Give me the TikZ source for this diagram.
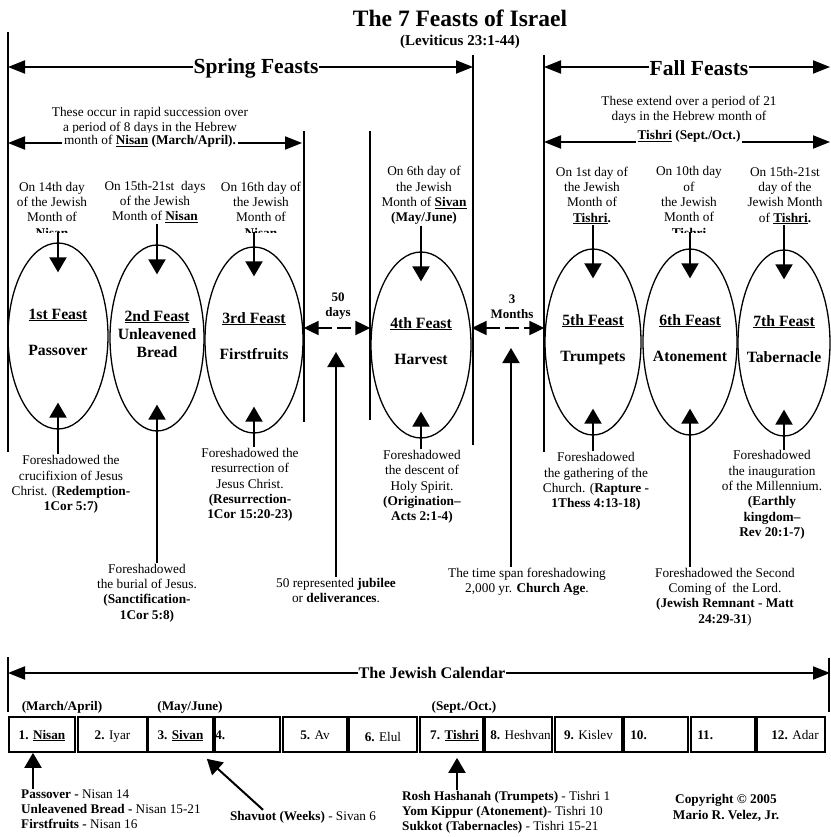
\documentclass[tikz,border=0pt]{standalone}
\usepackage{fontspec}
\setmainfont{Liberation Serif}
\usepackage{tikz}
\usetikzlibrary{arrows.meta,shapes.geometric}

\begin{document}
\begin{tikzpicture}[x=1pt,y=-1pt,
  txt/.style={align=center,font=\fontsize{13.3}{15.3}\selectfont,inner sep=1pt},
  smalltxt/.style={align=center,font=\fontsize{13.2}{15}\selectfont,inner sep=1pt},
  monthtxt/.style={anchor=base,font=\fontsize{13.2}{15}\selectfont,inner sep=1pt},
  listtxt/.style={align=left,anchor=north west,font=\fontsize{13.2}{15}\selectfont,inner sep=1pt},
  lbl/.style={align=center,anchor=base,font=\fontsize{15.7}{18}\selectfont\bfseries,inner sep=1pt},
  head/.style={font=\fontsize{21.5}{24}\selectfont\bfseries,fill=white,inner sep=1pt},
  feast/.style={draw,ellipse,line width=1.3pt,minimum height=186pt,inner sep=0pt},
  feastarrow/.style={line width=2pt,-{Triangle[length=15pt,width=17pt]}},
  spanarrow/.style={line width=2pt,{Triangle[length=17pt,width=13pt]}-{Triangle[length=17pt,width=13pt]}},
  gaparrow/.style={line width=2pt,dash pattern=on 14pt off 5pt,{Triangle[length=15pt,width=14pt]}-{Triangle[length=15pt,width=14pt]}},
  divider/.style={line width=1.3pt},
  monthbox/.style={draw,line width=1.7pt,minimum height=35pt,inner sep=0pt}]
\useasboundingbox (0,0) rectangle (830,837);

% title
\node[font=\fontsize{23.5}{26}\selectfont\bfseries] (title) at (460,18) {The 7 Feasts of Israel};
\node[font=\fontsize{15}{17}\selectfont\bfseries] (lev) at (460,42) {(Leviticus 23:1-44)};

% dividers
\draw[divider] (8,32) -- (8,452);
\draw[divider] (473,55) -- (473,445);
\draw[divider] (544,55) -- (544,452);
\draw[divider] (304,131) -- (304,422);
\draw[divider] (370,131) -- (370,420);

% spring and fall spans
\coordinate (sp0) at (8,67);
\coordinate (sp1) at (473,67);
\coordinate (fa0) at (544,67);
\coordinate (fa1) at (830,67);
\draw[spanarrow] (sp0) -- (sp1);
\draw[spanarrow] (fa0) -- (fa1);
\node[head] (spring) at (256,68.5) {Spring Feasts};
\node[head] (fall) at (699,68.5) {Fall Feasts};

\coordinate (ss0) at (8,143);
\coordinate (ss1) at (302,143);
\coordinate (fs0) at (544,142);
\coordinate (fs1) at (830,142);
\draw[spanarrow] (ss0) -- (ss1);
\draw[spanarrow] (fs0) -- (fs1);
\node[txt] (spt) at (150,120.5) {These occur in rapid succession over\\a period of 8 days in the Hebrew};
\node[txt,fill=white,inner sep=2pt] (spm) at (150,141) {month of \underline{\textbf{Nisan}} \textbf{(March/April).}};
\node[txt] (fat) at (689,110) {These extend over a period of 21\\days in the Hebrew month of};
\node[txt,fill=white,inner sep=2pt] (fam) at (689,136) {\underline{\textbf{Tishri}} \textbf{(Sept./Oct.)}};

% feasts
\foreach \n/\x/\y/\w in {1/58/336/100, 2/157/338/94, 3/254/340/98, 4/421/345/100,
                         5/593/342/96, 6/690/342/94, 7/784/343/92}
  \node[feast,minimum width=\w pt] (f\n) at (\x,\y) {};
\foreach \n/\h/\nm in {1/1st/Passover, 2/2nd/{Unleavened\\Bread}, 3/3rd/Firstfruits,
                       4/4th/Harvest, 5/5th/Trumpets, 6/6th/Atonement, 7/7th/Tabernacle} {
  \node[lbl] (h\n) at ([yshift=17pt]f\n.center) {\underline{\h\ Feast}};
  \node[lbl] (n\n) at ([yshift=-19pt]f\n.center) {\nm};
}

% texts above
\begin{scope}
\clip (0,150) rectangle (830,232);
\node[txt] (t1) at (52,210.5) {On 14th day\\of the Jewish\\Month of\\\underline{\textbf{Nisan}}};
\node[txt] (t3) at (261,210.5) {On 16th day of\\the Jewish\\Month of\\\underline{\textbf{Nisan}}};
\node[txt] (t6) at (689,203) {On 10th day\\of\\the Jewish\\Month of\\\underline{\textbf{Tishri}}};
\end{scope}
\coordinate (cut) at (0,232);
\node[txt] (t2) at (155,202) {On 15th-21st\ \ days\\of the Jewish\\Month of \underline{\textbf{Nisan}}};
\node[txt] (t4) at (424,195.5) {On 6th day of\\the Jewish\\Month of \underline{\textbf{Sivan}}\\\textbf{(May/June)}};
\node[txt] (t5) at (592,195.5) {On 1st day of\\the Jewish\\Month of\\\underline{\textbf{Tishri}}\textbf{.}};
\node[txt] (t7) at (785,195.5) {On 15th-21st\\day of the\\Jewish Month\\of \underline{\textbf{Tishri}}\textbf{.}};

\draw[feastarrow] (f1.north |- cut) -- ([yshift=-30pt]f1.north);
\draw[feastarrow] (f2.north |- t2.south) -- ([yshift=-30pt]f2.north);
\draw[feastarrow] (f3.north |- cut) -- ([yshift=-30pt]f3.north);
\draw[feastarrow] (f4.north |- t4.south) -- ([yshift=-30pt]f4.north);
\draw[feastarrow] (f5.north |- t5.south) -- ([yshift=-30pt]f5.north);
\draw[feastarrow] (f6.north |- cut) -- ([yshift=-30pt]f6.north);
\draw[feastarrow] (f7.north |- t7.south) -- ([yshift=-30pt]f7.north);

% gaps between feasts
\node[smalltxt,font=\fontsize{13}{15}\selectfont\bfseries] (d50) at (338,306.5) {50\\days};
\node[smalltxt,font=\fontsize{13}{15}\selectfont\bfseries] (d3m) at (512,306.5) {3\\Months};
\draw[gaparrow] ([yshift=12pt]f3.east) -- ([yshift=12pt]f3.east -| f4.west);
\draw[gaparrow] ([yshift=14pt]f5.west -| f4.east) -- ([yshift=14pt]f5.west);

% texts below
\node[txt] (b1) at (71,484.5) {Foreshadowed the\\crucifixion of Jesus\\Christ. (\textbf{Redemption-}\\\textbf{1Cor 5:7)}};
\node[txt] (b2) at (147,593) {Foreshadowed\\the burial of Jesus.\\\textbf{(Sanctification-}\\\textbf{1Cor 5:8)}};
\node[txt] (b3) at (250,485) {Foreshadowed the\\resurrection of\\Jesus Christ.\\\textbf{(Resurrection-}\\\textbf{1Cor 15:20-23)}};
\node[txt] (b50) at (336,590.5) {50 represented \textbf{jubilee}\\or \textbf{deliverances}.};
\node[txt] (b4) at (422,487) {Foreshadowed\\the descent of\\Holy Spirit.\\\textbf{(Origination--}\\\textbf{Acts 2:1-4)}};
\node[txt] (bc) at (527,581.5) {The time span foreshadowing\\2,000 yr. \textbf{Church Age}.};
\node[txt] (b5) at (596,481.5) {Foreshadowed\\the gathering of the\\Church. (\textbf{Rapture -}\\\textbf{1Thess 4:13-18)}};
\node[txt] (b6) at (725,597) {Foreshadowed the Second\\Coming of\ \ the Lord.\\\textbf{(Jewish Remnant - Matt}\\\textbf{24:29-31})};
\node[txt] (b7) at (772,495) {Foreshadowed\\the inauguration\\of the Millennium.\\\textbf{(Earthly}\\\textbf{kingdom--}\\\textbf{Rev 20:1-7)}};

\coordinate (g50) at (336,352);
\coordinate (g3m) at (511,348);
\foreach \n in {1,...,7}
  \draw[feastarrow] (f\n.south |- b\n.north) -- ([yshift=27pt]f\n.south);
\draw[feastarrow] (b50.north) -- (g50);
\draw[feastarrow] (g3m |- bc.north) -- (g3m);

% calendar
\draw[divider] (8,657) -- (8,712);
\draw[divider] (829,658) -- (829,712);
\coordinate (c0) at (8,673);
\coordinate (c1) at (830,673);
\draw[spanarrow] (c0) -- (c1);
\node[fill=white,font=\fontsize{16.2}{18}\selectfont\bfseries,inner sep=1pt] (cal) at (432,673) {The Jewish Calendar};

\node[smalltxt,font=\fontsize{13.2}{15}\selectfont\bfseries] (ma) at (62,707) {(March/April)};
\node[smalltxt,font=\fontsize{13.2}{15}\selectfont\bfseries] (mj) at (190,707) {(May/June)};
\node[smalltxt,font=\fontsize{13.2}{15}\selectfont\bfseries] (so) at (464,707) {(Sept./Oct.)};

\foreach \n/\x/\w in {1/42/66, 2/112.5/69, 3/180.5/65, 4/247.5/65, 5/315/64, 6/383/68,
                      7/451.5/63, 8/518.5/67, 9/588.5/67, 10/656/64, 11/723/64, 12/791/68}
  \node[monthbox,minimum width=\w pt] (m\n) at (\x,734.5) {};
\node[monthtxt] at ([yshift=-4.5pt]m1.center) {\textbf{1.} \underline{\textbf{Nisan}}};
\node[monthtxt] at ([yshift=-4.5pt]m2.center) {\textbf{2.} Iyar};
\node[monthtxt] at ([yshift=-4.5pt]m3.center) {\textbf{3.} \underline{\textbf{Sivan}}};
\node[monthtxt,anchor=base west] at ([yshift=-4.5pt]m4.west) {\textbf{4.}};
\node[monthtxt] at ([yshift=-4.5pt]m5.center) {\textbf{5.} Av};
\node[monthtxt] at ([yshift=-7pt]m6.center) {\textbf{6.} Elul};
\node[monthtxt] at ([shift={(3pt,-4.5pt)}]m7.center) {\textbf{7.} \underline{\textbf{Tishri}}};
\node[monthtxt] at ([shift={(2pt,-4.5pt)}]m8.center) {\textbf{8.} Heshvan};
\node[monthtxt] at ([yshift=-4.5pt]m9.center) {\textbf{9.} Kislev};
\node[monthtxt,anchor=base west] at ([shift={(6pt,-5pt)}]m10.west) {\textbf{10.}};
\node[monthtxt,anchor=base west] at ([shift={(6pt,-5pt)}]m11.west) {\textbf{11.}};
\node[monthtxt] at ([shift={(4pt,-4.5pt)}]m12.center) {\textbf{12.} Adar};

% feast days in the calendar
\node[listtxt] (pl) at (20,789) {\textbf{Passover -} Nisan 14\\\textbf{Unleavened Bread -} Nisan 15-21\\\textbf{Firstfruits -} Nisan 16};
\node[smalltxt] (sv) at (303,817) {\textbf{Shavuot (Weeks)} - Sivan 6};
\node[listtxt] (rh) at (401,790) {\textbf{Rosh Hashanah (Trumpets)} - Tishri 1\\\textbf{Yom Kippur (Atonement)}- Tishri 10\\\textbf{Sukkot (Tabernacles)} - Tishri 15-21};
\node[smalltxt,font=\fontsize{13.3}{16}\selectfont\bfseries] (cr) at (726,808) {Copyright © 2005\\Mario R. Velez, Jr.};

\draw[feastarrow] ([xshift=-9pt]m1.south |- pl.north) -- ([xshift=-9pt]m1.south);
\draw[feastarrow] ([xshift=-40pt]sv.north) -- ([shift={(-7pt,-6pt)}]m3.south east);
\draw[feastarrow] ([xshift=5.5pt]m7.south |- rh.north) -- ([shift={(5.5pt,-5pt)}]m7.south);
\end{tikzpicture}
\end{document}
